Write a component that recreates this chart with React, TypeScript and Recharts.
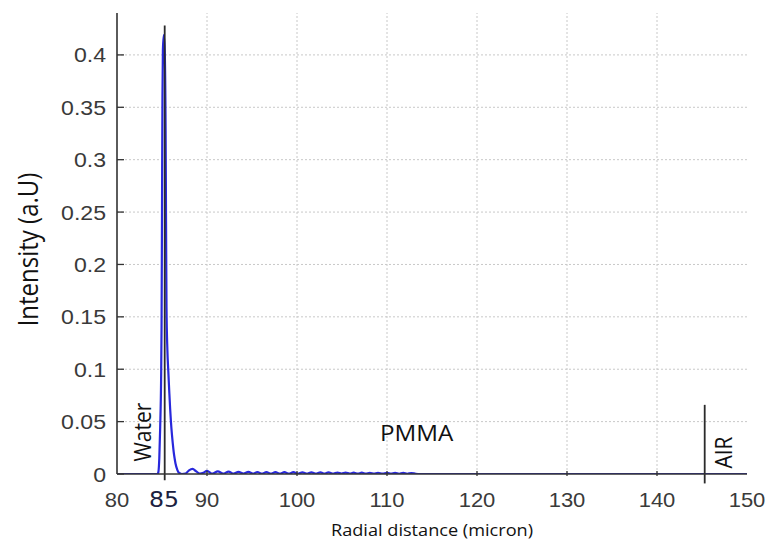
import React from 'react';
import { LineChart, Line, XAxis, YAxis, ReferenceLine, ReferenceDot, Label } from 'recharts';

// Radial intensity profile across the water / PMMA / air interfaces
const radialDistance = [
  80, 84.5, 84.6, 84.7, 84.8, 84.9, 84.95, 85.0, 85.05, 85.1,
  85.2, 85.3, 85.4, 85.45, 85.5, 85.6, 85.7, 85.8, 85.9, 86.0,
  86.1, 86.2, 86.3, 86.4, 86.5, 86.7, 86.9, 87.2, 87.6, 88.0,
  88.4, 88.8, 89.2, 89.6, 90.0, 90.6, 91.2, 91.8, 92.4, 92.95,
  93.5, 94.05, 94.6, 95.1, 95.6, 96.1, 96.6, 97.1, 97.6, 98.1,
  98.6, 99.1, 99.6, 100.1, 100.6, 101.1, 101.6, 102.1, 102.6, 103.05,
  103.5, 104.0, 104.5, 104.95, 105.4, 105.85, 106.3, 106.75, 107.2, 107.65,
  108.1, 108.55, 109.0, 109.5, 110.0, 110.45, 110.9, 111.35, 111.8, 112.25,
  112.7, 113.2, 113.7, 150,
];

const intensity = [
  0, 0, 0.002, 0.015, 0.045, 0.09, 0.14, 0.25, 0.36, 0.405,
  0.419, 0.405, 0.33, 0.24, 0.16, 0.118, 0.098, 0.08, 0.063, 0.049,
  0.038, 0.029, 0.021, 0.015, 0.01, 0.004, 0.001, 0, 0.0003, 0.0035,
  0.0048, 0.0025, 0.0004, 0.0012, 0.003, 0.0003, 0.0026, 0.0003, 0.0023, 0.0003,
  0.0021, 0.0003, 0.002, 0.0003, 0.0019, 0.0003, 0.0018, 0.0003, 0.0018, 0.0003,
  0.0017, 0.0003, 0.0017, 0.0003, 0.0016, 0.0003, 0.0016, 0.0003, 0.0015, 0.0003,
  0.0015, 0.0003, 0.0014, 0.0003, 0.0014, 0.0003, 0.0013, 0.0003, 0.0013, 0.0003,
  0.0012, 0.0003, 0.0012, 0.0003, 0.0011, 0.0003, 0.0011, 0.0002, 0.001, 0.0002,
  0.0009, 0.0002, 0, 0,
];

const xTicks = [80, 85, 90, 100, 110, 120, 130, 140, 150];
const yTicks = [0, 0.05, 0.1, 0.15, 0.2, 0.25, 0.3, 0.35, 0.4];
const xGrid = [90, 100, 110, 120, 130, 140];
const yGrid = [0.05, 0.1, 0.15, 0.2, 0.25, 0.3, 0.35, 0.4];

// Interface markers: position and vertical extent (intensity units)
const markerX = [85.3, 145.3];
const markerTop = [0.428, 0.066];
const markerBottom = [-0.006, -0.009];

// Medium names placed at (distance, intensity)
const regionNames = ['Water', 'PMMA', 'AIR'];
const regionX = [82.8, 113.3, 147.4];
const regionY = [0.04, 0.0395, 0.0205];
const regionVertical = [true, false, true];

const data = radialDistance.map((r, i) => ({ r, intensity: intensity[i] }));

const TICK_FONT = '"Liberation Sans", Arial, sans-serif';
const LABEL_FONT = '"Open Sans", "Noto Sans", sans-serif';
const STRETCH = 1.1;

type STextProps = {
  x: number;
  y: number;
  size: number;
  family: string;
  fill: string;
  anchor?: 'start' | 'middle' | 'end';
  vertical?: boolean;
  dy?: string;
  weight?: number;
  children: React.ReactNode;
};

function SText({ x, y, size, family, fill, anchor = 'middle', vertical = false, dy, weight = 400, children }: STextProps) {
  const t = `translate(${x},${y}) scale(${STRETCH},1)` + (vertical ? ' rotate(-90)' : '');
  return (
    <text transform={t} x={0} y={0} dy={dy} textAnchor={anchor} fontSize={size} fontFamily={family} fill={fill} fontWeight={weight}>
      {children}
    </text>
  );
}

const XTick = (props: any) => {
  const { x, y, payload } = props;
  const v = payload.value as number;
  const isMarker = v === 85;
  const inner = v > 80 && v < 150 && !isMarker;
  return (
    <g>
      {inner && <line x1={x} x2={x} y1={y} y2={y - 5} stroke="#333" strokeWidth={1.3} />}
      <SText
        x={isMarker ? x + 2 : x}
        y={y + 31}
        size={isMarker ? 21.5 : 20}
        family={isMarker ? '"DejaVu Sans", sans-serif' : TICK_FONT}
        fill={isMarker ? '#1b2140' : '#3a3a3a'}
      >
        {String(v)}
      </SText>
    </g>
  );
};

const YTickLeft = (props: any) => {
  const { x, y, payload } = props;
  return (
    <g>
      <line x1={x + 11} x2={x + 18} y1={y} y2={y} stroke="#333" strokeWidth={1.3} />
      <SText x={x} y={y} dy="0.36em" anchor="end" size={21} family={TICK_FONT} fill="#3a3a3a">
        {String(payload.value)}
      </SText>
    </g>
  );
};

const YTickRight = (props: any) => {
  const { x, y } = props;
  return <line x1={x - 7} x2={x} y1={y} y2={y} stroke="#333" strokeWidth={1.3} />;
};

const regionLabel = (i: number) => (props: any) => {
  const vb = props.viewBox;
  const cx = vb.x + vb.width / 2;
  const cy = vb.y + vb.height / 2;
  return (
    <SText
      x={cx}
      y={cy}
      dy="0.36em"
      size={regionVertical[i] ? 21 : 22}
      family={LABEL_FONT}
      fill="#111"
      vertical={regionVertical[i]}
    >
      {regionNames[i]}
    </SText>
  );
};

export default function App() {
  return (
    <div style={{ position: 'absolute', left: 0, top: 0, width: 766, height: 542, background: '#fff' }}>
      <LineChart width={766} height={542} data={data} margin={{ top: 13, right: 19, bottom: 0, left: 17 }}>
        <XAxis
          dataKey="r"
          type="number"
          domain={[80, 150]}
          ticks={xTicks}
          interval={0}
          allowDataOverflow
          height={68}
          tickSize={0}
          tickLine={false}
          axisLine={{ stroke: '#333', strokeWidth: 1.3 }}
          tick={<XTick />}
        >
          <Label
            content={(p: any) => {
              const vb = p.viewBox;
              return (
                <SText x={vb.x + vb.width / 2} y={vb.y + 62} size={16.5} family={LABEL_FONT} fill="#111">
                  Radial distance (micron)
                </SText>
              );
            }}
          />
        </XAxis>
        <YAxis
          type="number"
          domain={[0, 0.44]}
          ticks={yTicks}
          interval={0}
          allowDataOverflow
          width={100}
          tickSize={0}
          tickMargin={11}
          tickLine={false}
          axisLine={{ stroke: '#333', strokeWidth: 1.6 }}
          tick={<YTickLeft />}
        >
          <Label
            content={(p: any) => {
              const vb = p.viewBox;
              return (
                <SText x={28} y={vb.y + vb.height / 2 + 6} dy="0.36em" size={24} family={LABEL_FONT} fill="#111" vertical>
                  Intensity (a.U)
                </SText>
              );
            }}
          />
        </YAxis>
        <YAxis
          yAxisId="right"
          orientation="right"
          type="number"
          domain={[0, 0.44]}
          ticks={yTicks}
          interval={0}
          allowDataOverflow
          width={0}
          tickSize={0}
          tickMargin={0}
          tickLine={false}
          axisLine={{ stroke: '#333', strokeWidth: 1.6 }}
          tick={<YTickRight />}
        />

        {xGrid.map((v) => (
          <ReferenceLine key={`gx${v}`} x={v} stroke="#c8c8c8" strokeDasharray="2 2" strokeWidth={1} />
        ))}
        {yGrid.map((v) => (
          <ReferenceLine key={`gy${v}`} y={v} stroke="#c8c8c8" strokeDasharray="2 2" strokeWidth={1} />
        ))}

        <Line
          type="monotone"
          dataKey="intensity"
          stroke="#2828dc"
          strokeWidth={2.2}
          dot={false}
          isAnimationActive={false}
        />

        {markerX.map((mx, i) => (
          <ReferenceLine
            key={`m${i}`}
            segment={[
              { x: mx, y: markerBottom[i] },
              { x: mx, y: markerTop[i] },
            ]}
            ifOverflow="visible"
            stroke="#2b2b2b"
            strokeWidth={1.8}
          />
        ))}

        {regionNames.map((name, i) => (
          <ReferenceDot
            key={name}
            x={regionX[i]}
            y={regionY[i]}
            r={1}
            fill="none"
            stroke="none"
            ifOverflow="visible"
            label={{ content: regionLabel(i) }}
          />
        ))}
      </LineChart>
    </div>
  );
}
